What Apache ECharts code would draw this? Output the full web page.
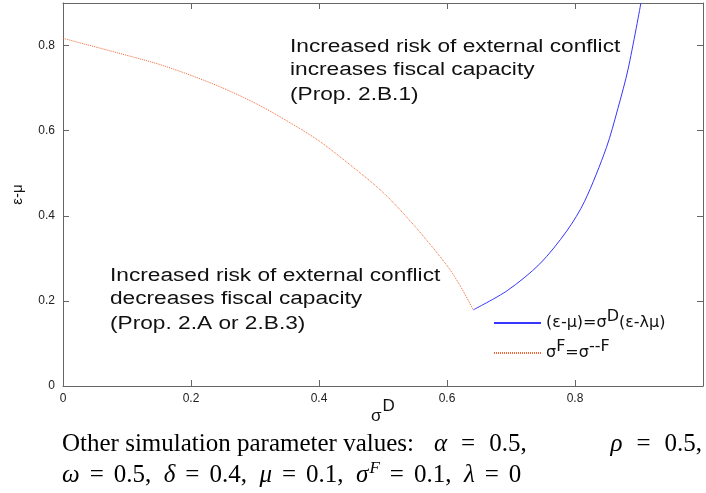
<!DOCTYPE html>
<html>
<head>
<meta charset="utf-8">
<script src="https://cdn.jsdelivr.net/npm/echarts@6/dist/echarts.min.js"></script>
<style>
html,body{margin:0;padding:0;background:#fff;}
#chart{width:706px;height:493px;}
</style>
</head>
<body>
<div id="chart"></div>
<script>
// Orange curve: sigma^F = sigma-bar^F boundary
const orangeX = [0, 0.05, 0.1, 0.15, 0.2, 0.25, 0.3, 0.35, 0.4, 0.45, 0.5, 0.55, 0.6, 0.62, 0.641];
const orangeY = [0.817, 0.797, 0.777, 0.756, 0.730, 0.700, 0.665, 0.623, 0.576, 0.518, 0.455, 0.375, 0.283, 0.237, 0.179];
// Blue curve: (eps-mu) = sigma^D (eps - lambda mu)
const blueX = [0.641, 0.694, 0.745, 0.787, 0.815, 0.849, 0.867, 0.883, 0.903];
const blueY = [0.179, 0.224, 0.287, 0.364, 0.434, 0.560, 0.652, 0.745, 0.900];
const seriesNames = ['blue', 'orange'];

const zip = (xs, ys) => xs.map((x, i) => [x, ys[i]]);
const chart = echarts.init(document.getElementById('chart'));
const sans = 'Liberation Sans';
const serif = 'Liberation Serif';
const axisCol = '#666';
const tickFmt = v => (v < 0.95 && Math.abs(v * 5 - Math.round(v * 5)) < 1e-6) ? String(+v.toFixed(1)) : '';

const legendText = {
  blue: '{t|(ε-μ)=σ}{sup|D}{t|(ε-λμ)}',
  orange: '{t|σ}{sup|F}{t|=σ}{sup|--F}'
};
const mkTick = () => ({show: true, inside: true, length: 6, lineStyle: {color: axisCol}});
const mkLine = () => ({show: true, onZero: false, lineStyle: {color: axisCol}});

const capFont = '25px "Liberation Serif"';
const capRich = (pad) => ({
  i: {fontStyle: 'italic', fontFamily: serif, fontSize: 25},
  e: {fontFamily: serif, fontSize: 25, padding: [0, pad, 0, pad]},
  s: {fontStyle: 'italic', fontFamily: serif, fontSize: 17, padding: [0, 0, 14, 1]}
});
const annFont = '18px "Liberation Sans"';
const ann = (x, y, text) => ({type: 'text', x: x, y: y, scaleX: 1.26,
  style: {text: text, font: annFont, fill: '#111', verticalAlign: 'middle'}});

const option = {
  animation: false,
  grid: {left: 63, right: 0, top: 3, bottom: 107},
  xAxis: [{
    type: 'value', min: 0, max: 1, interval: 0.2,
    axisLine: mkLine(), axisTick: mkTick(),
    splitLine: {show: false},
    axisLabel: {formatter: tickFmt, color: '#222', fontFamily: sans, fontSize: 12, margin: 7},
    name: '{s|σ}{sup|D}', nameLocation: 'middle', nameGap: 12, nameMoveOverlap: false,
    nameTextStyle: {rich: {
      s: {fontFamily: sans, fontSize: 17, color: '#111', padding: [8, 1, 0, 0]},
      sup: {fontFamily: sans, fontSize: 17, color: '#111', padding: [0, 0, 12, 0]}
    }}
  }, {
    type: 'value', position: 'top', min: 0, max: 1, interval: 0.2,
    axisLine: mkLine(), axisTick: mkTick(),
    axisLabel: {show: false}, splitLine: {show: false}
  }],
  yAxis: [{
    type: 'value', min: 0, max: 0.9, interval: 0.2,
    axisLine: mkLine(), axisTick: mkTick(),
    splitLine: {show: false},
    axisLabel: {formatter: tickFmt, color: '#222', fontFamily: sans, fontSize: 12, margin: 8},
    name: 'ε-μ', nameLocation: 'middle', nameGap: 38, nameRotate: 90,
    nameTextStyle: {fontFamily: sans, fontSize: 15, color: '#111'}
  }, {
    type: 'value', position: 'right', min: 0, max: 0.9, interval: 0.2,
    axisLine: mkLine(), axisTick: mkTick(),
    axisLabel: {show: false}, splitLine: {show: false}
  }],
  legend: {
    orient: 'vertical', left: 488, top: 304, itemWidth: 47, itemHeight: 12, itemGap: 8,
    data: seriesNames,
    itemStyle: {opacity: 0},
    formatter: n => legendText[n],
    textStyle: {
      fontFamily: 'DejaVu Sans', fontSize: 16, color: '#111',
      rich: {
        t: {fontFamily: 'DejaVu Sans', fontSize: 16, color: '#111'},
        sup: {fontFamily: 'DejaVu Sans', fontSize: 16, color: '#111', padding: [0, 0, 12, 0]}
      }
    }
  },
  series: [{
    name: 'blue', type: 'line', data: zip(blueX, blueY), symbol: 'none', smooth: 0.3,
    lineStyle: {color: '#3636ff', width: 1}, itemStyle: {color: '#3636ff'}, clip: true
  }, {
    name: 'orange', type: 'line', data: zip(orangeX, orangeY), symbol: 'none', smooth: 0.3,
    lineStyle: {color: '#ee6633', width: 1, type: [1, 1]}, itemStyle: {color: '#ee6633'}, clip: true
  }],
  graphic: [
    ann(290, 47, 'Increased risk of external conflict'),
    ann(290, 70, 'increases fiscal capacity'),
    ann(290, 95, '(Prop. 2.B.1)'),
    ann(110, 276, 'Increased risk of external conflict'),
    ann(110, 299, 'decreases fiscal capacity'),
    ann(110, 324, '(Prop. 2.A or 2.B.3)'),
    {type: 'text', left: 62, top: 432, style: {text: 'Other simulation parameter values:', font: capFont, fill: '#000'}},
    {type: 'text', left: 434, top: 432, style: {text: '{i|α}{e|=}0.5,', font: capFont, fill: '#000', rich: capRich(14)}},
    {type: 'text', right: 4, top: 432, style: {text: '{i|ρ}{e|=}0.5,', font: capFont, fill: '#000', rich: capRich(14)}},
    {type: 'text', left: 62, top: 460, style: {
      text: '{i|ω}{e|=}0.5,  {i|δ}{e|=}0.4,  {i|μ}{e|=}0.1,  {i|σ}{s|F}{e|=}0.1,  {i|λ}{e|=}0',
      font: capFont, fill: '#000', rich: capRich(10)
    }}
  ]
};
chart.setOption(option);
</script>
</body>
</html>
